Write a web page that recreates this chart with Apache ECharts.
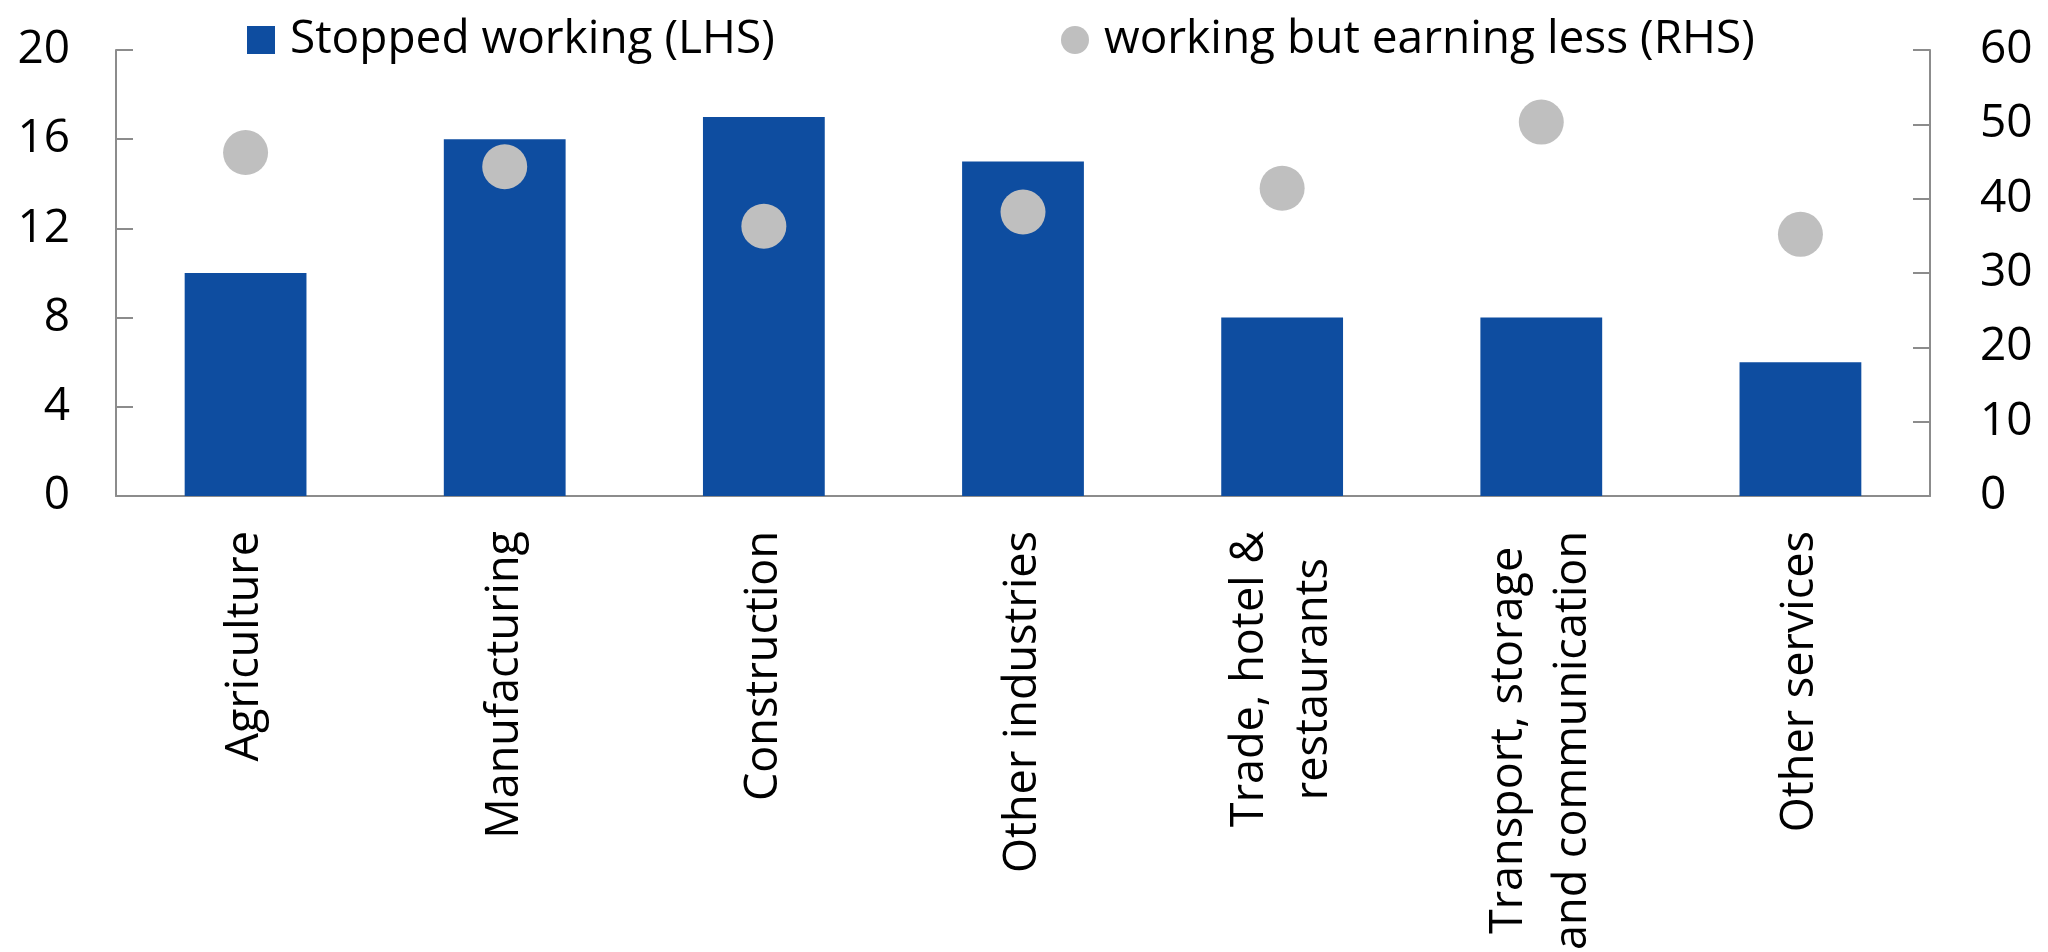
<!DOCTYPE html>
<html>
<head>
<meta charset="utf-8">
<style>
  html, body { margin: 0; padding: 0; background: #ffffff; }
  #chart { width: 2048px; height: 952px; }
</style>
<script src="https://cdn.jsdelivr.net/npm/echarts@6/dist/echarts.min.js"></script>
</head>
<body>
<div id="chart"></div>
<script>
// Sectors on the category axis (two-line names use \n)
const categories = [
  'Agriculture',
  'Manufacturing',
  'Construction',
  'Other industries',
  'Trade, hotel &\nrestaurants',
  'Transport, storage\nand communication',
  'Other services'
];

// Share who stopped working (left axis)
const stoppedWorking = [10, 16, 17, 15, 8, 8, 6];

// Share still working but earning less (right axis)
const earningLess = [46.2, 44.3, 36.3, 38.2, 41.4, 50.3, 35.2];

const seriesNames = ['Stopped working (LHS)', 'working but earning less (RHS)'];

const FONT = '"Open Sans", "Noto Sans", sans-serif';
const FS = 46;
const CAT_FS = 45;
const AXIS_GREY = '#8c8c8c';
const BAR_BLUE = '#0e4da0';
const DOT_GREY = '#bfbfbf';

const chart = echarts.init(document.getElementById('chart'), null, { renderer: 'canvas' });

const legendText = {
  fontFamily: FONT,
  fontSize: FS,
  color: '#000000',
  padding: [0, 0, 0, 10]
};

chart.setOption({
  animation: false,
  backgroundColor: '#ffffff',
  textStyle: { fontFamily: FONT },
  legend: [
    {
      left: 247, top: 17, padding: 0,
      itemWidth: 28, itemHeight: 28,
      data: [{ name: seriesNames[0], icon: 'rect' }],
      textStyle: legendText,
      selectedMode: false
    },
    {
      left: 1061, top: 17, padding: 0,
      itemWidth: 28, itemHeight: 28,
      data: [{ name: seriesNames[1], icon: 'circle' }],
      textStyle: legendText,
      selectedMode: false
    }
  ],
  grid: {
    left: 116, right: 118, top: 50, bottom: 456,
    containLabel: false,
    outerBoundsMode: 'none'
  },
  xAxis: {
    type: 'category',
    data: categories,
    boundaryGap: true,
    axisLine: { lineStyle: { color: AXIS_GREY, width: 2 } },
    axisTick: { inside: true, length: 17, lineStyle: { color: AXIS_GREY, width: 2 } },
    axisLabel: {
      rotate: 90,
      interval: 0,
      margin: 35,
      color: '#000000',
      fontFamily: FONT,
      fontSize: CAT_FS,
      lineHeight: 64,
      // each line centred within its label block
      formatter: (v) => v.split('\n').map(l => '{c|' + l + '}').join('\n'),
      rich: {
        c: { align: 'center', fontFamily: FONT, fontSize: CAT_FS, lineHeight: 64, color: '#000000' }
      }
    },
    splitLine: { show: false }
  },
  yAxis: [
    {
      type: 'value',
      min: 0, max: 20, interval: 4,
      position: 'left',
      axisLine: { show: true, lineStyle: { color: AXIS_GREY, width: 2 } },
      axisTick: { show: true, inside: true, length: 17, lineStyle: { color: AXIS_GREY, width: 2 } },
      axisLabel: { margin: 46, color: '#000000', fontFamily: FONT, fontSize: FS },
      splitLine: { show: false }
    },
    {
      type: 'value',
      min: 0, max: 60, interval: 10,
      position: 'right',
      axisLine: { show: true, lineStyle: { color: AXIS_GREY, width: 2 } },
      axisTick: { show: true, inside: true, length: 17, lineStyle: { color: AXIS_GREY, width: 2 } },
      axisLabel: { margin: 50, color: '#000000', fontFamily: FONT, fontSize: FS },
      splitLine: { show: false }
    }
  ],
  series: [
    {
      name: seriesNames[0],
      type: 'bar',
      yAxisIndex: 0,
      data: stoppedWorking,
      barWidth: '47%',
      itemStyle: { color: BAR_BLUE }
    },
    {
      name: seriesNames[1],
      type: 'scatter',
      yAxisIndex: 1,
      data: earningLess,
      symbol: 'circle',
      symbolSize: 45,
      itemStyle: { color: DOT_GREY, opacity: 1 }
    }
  ]
});
</script>
</body>
</html>
